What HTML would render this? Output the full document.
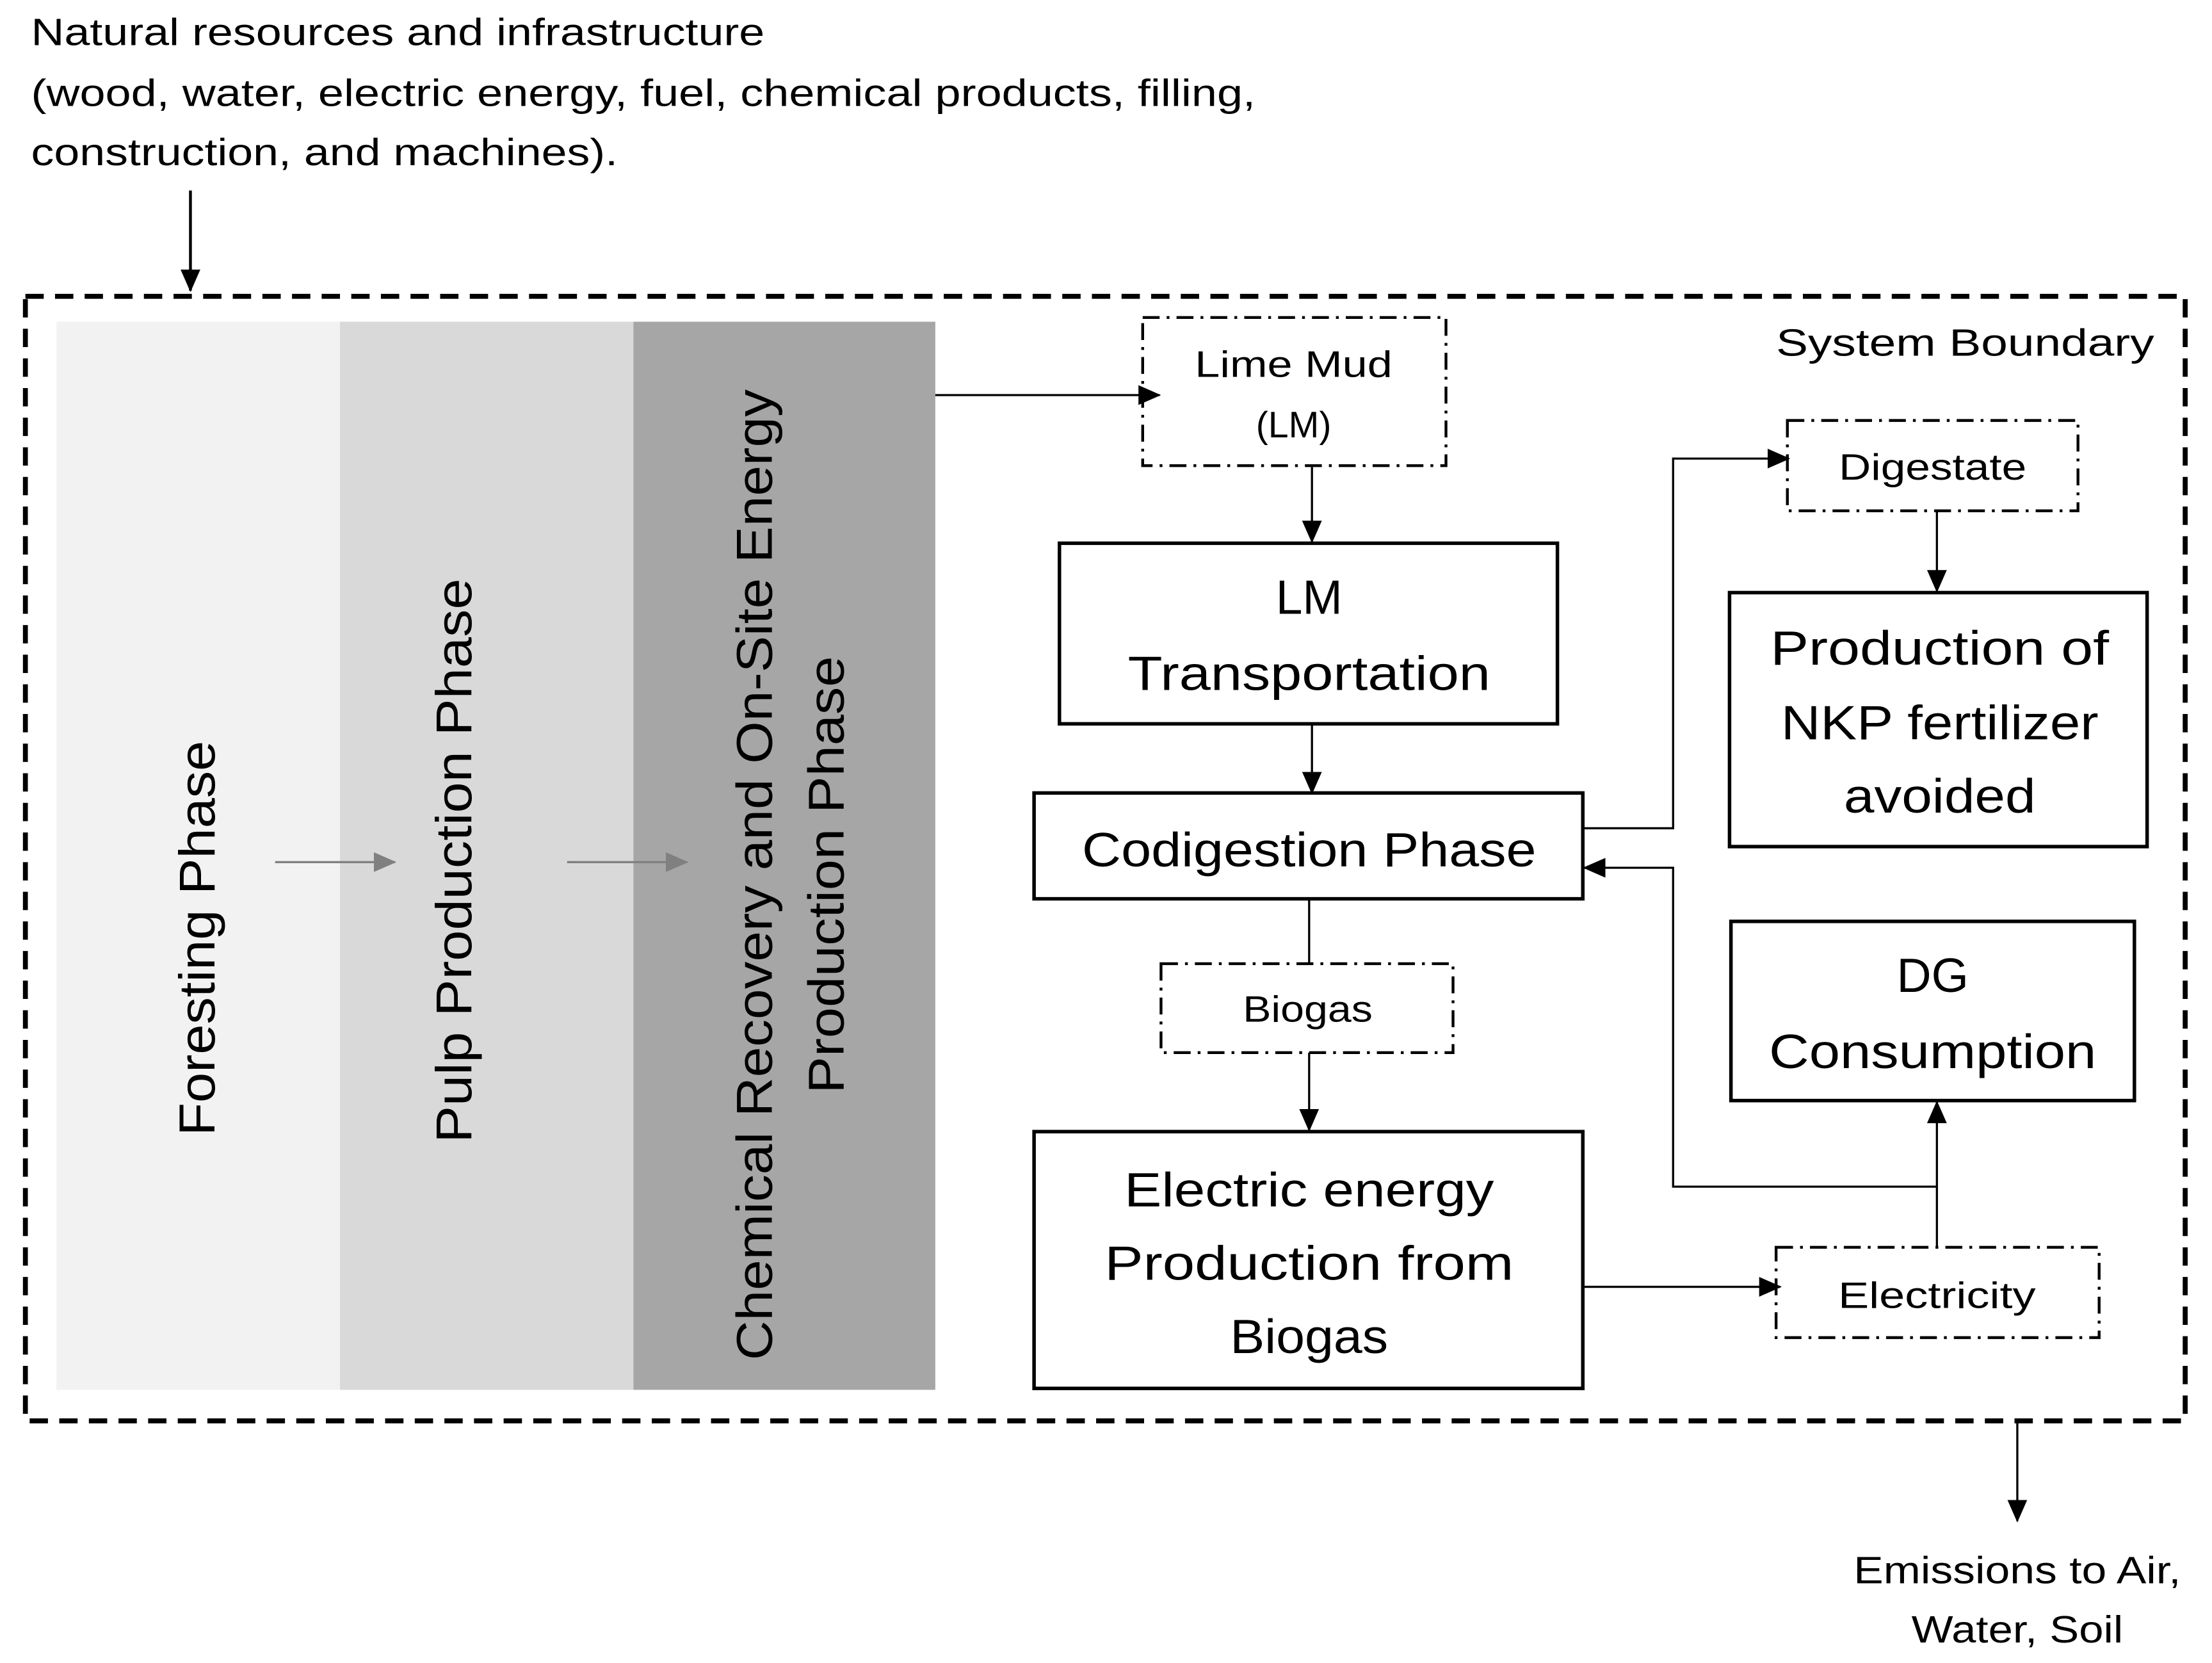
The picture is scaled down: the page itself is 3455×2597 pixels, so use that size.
<!DOCTYPE html>
<html><head><meta charset="utf-8"><style>html,body{margin:0;padding:0;background:#fff}svg{display:block}</style></head>
<body>
<svg width="3455" height="2597" viewBox="0 0 1568 1178.6" xmlns="http://www.w3.org/2000/svg" font-family="Liberation Sans, sans-serif" fill="#000">
<defs>
<marker id="a" markerWidth="10" markerHeight="10" refX="9" refY="5" orient="auto" markerUnits="userSpaceOnUse" viewBox="0 0 10 10"><path d="M0,0 L10,5 L0,10z" fill="#000"/></marker>
<marker id="ab" markerWidth="16" markerHeight="14" refX="15" refY="7" orient="auto" markerUnits="userSpaceOnUse" viewBox="0 0 16 14"><path d="M0,0 L16,7 L0,14z" fill="#000"/></marker>
<marker id="ag" markerWidth="16" markerHeight="14" refX="15" refY="7" orient="auto" markerUnits="userSpaceOnUse" viewBox="0 0 16 14"><path d="M0,0 L16,7 L0,14z" fill="#808080"/></marker>
</defs>
<rect width="1568" height="1179" fill="#fff"/>
<g font-size="27">
<text x="22" y="32" textLength="520" lengthAdjust="spacingAndGlyphs">Natural resources and infrastructure</text>
<text x="22" y="75" textLength="868" lengthAdjust="spacingAndGlyphs">(wood, water, electric energy, fuel, chemical products, filling,</text>
<text x="22" y="117" textLength="416" lengthAdjust="spacingAndGlyphs">construction, and machines).</text>
</g>
<line x1="135" y1="135" x2="135" y2="206" stroke="#000" stroke-width="2" marker-end="url(#ab)"/>
<rect x="40" y="228" width="201" height="757" fill="#f2f2f2"/>
<rect x="241" y="228" width="208" height="757" fill="#d9d9d9"/>
<rect x="449" y="228" width="214" height="757" fill="#a6a6a6"/>
<rect x="18" y="210" width="1531" height="797" fill="none" stroke="#000" stroke-width="3.5" stroke-dasharray="13,8"/>
<g font-size="36" text-anchor="middle">
<text transform="translate(152,665) rotate(-90)" textLength="280" lengthAdjust="spacingAndGlyphs">Foresting Phase</text>
<text transform="translate(334,610) rotate(-90)" textLength="400" lengthAdjust="spacingAndGlyphs">Pulp Production Phase</text>
<text transform="translate(547,620) rotate(-90)" textLength="688" lengthAdjust="spacingAndGlyphs">Chemical Recovery and On-Site Energy</text>
<text transform="translate(598,620) rotate(-90)" textLength="310" lengthAdjust="spacingAndGlyphs">Production Phase</text>
</g>
<line x1="195" y1="611" x2="280" y2="611" stroke="#808080" stroke-width="1.5" marker-end="url(#ag)"/>
<line x1="402" y1="611" x2="487" y2="611" stroke="#808080" stroke-width="1.5" marker-end="url(#ag)"/>
<g stroke="#000" stroke-width="1.5" fill="none">
<line x1="663" y1="280" x2="822" y2="280" marker-end="url(#ab)"/>
<line x1="930" y1="331" x2="930" y2="384" marker-end="url(#ab)"/>
<line x1="930" y1="513" x2="930" y2="562" marker-end="url(#ab)"/>
<polyline points="1122,587 1186,587 1186,325 1268,325" marker-end="url(#ab)"/>
<line x1="1373" y1="362" x2="1373" y2="419" marker-end="url(#ab)"/>
<line x1="928" y1="637" x2="928" y2="683"/>
<line x1="928" y1="746" x2="928" y2="801" marker-end="url(#ab)"/>
<line x1="1122" y1="912" x2="1262" y2="912" marker-end="url(#ab)"/>
<line x1="1373" y1="884" x2="1373" y2="781" marker-end="url(#ab)"/>
<polyline points="1373,841 1186,841 1186,615 1123,615" marker-end="url(#ab)"/>
<line x1="1430" y1="1008" x2="1430" y2="1078" marker-end="url(#ab)"/>
</g>
<g fill="none" stroke="#000" stroke-width="2" stroke-dasharray="12,5,2,5">
<rect x="810" y="225" width="215" height="105"/>
<rect x="1267" y="298" width="206" height="64"/>
<rect x="823" y="683" width="207" height="63"/>
<rect x="1259" y="884" width="229" height="64"/>
</g>
<g fill="#fff" stroke="#000" stroke-width="2.5">
<rect x="751" y="385" width="353" height="128"/>
<rect x="733" y="562" width="389" height="75"/>
<rect x="1226" y="420" width="296" height="180"/>
<rect x="1227" y="653" width="286" height="127"/>
<rect x="733" y="802" width="389" height="182"/>
</g>
<g font-size="26" text-anchor="middle">
<text x="917" y="267" textLength="140" lengthAdjust="spacingAndGlyphs">Lime Mud</text>
<text x="917" y="310">(LM)</text>
<text x="1370" y="340" textLength="133" lengthAdjust="spacingAndGlyphs">Digestate</text>
<text x="927" y="724" textLength="92" lengthAdjust="spacingAndGlyphs">Biogas</text>
<text x="1373" y="927" textLength="140" lengthAdjust="spacingAndGlyphs">Electricity</text>
</g>
<g font-size="34" text-anchor="middle">
<text x="928" y="435">LM</text>
<text x="928" y="489" textLength="257" lengthAdjust="spacingAndGlyphs">Transportation</text>
<text x="928" y="614" textLength="322" lengthAdjust="spacingAndGlyphs">Codigestion Phase</text>
<text x="1375" y="471" textLength="240" lengthAdjust="spacingAndGlyphs">Production of</text>
<text x="1375" y="524" textLength="225" lengthAdjust="spacingAndGlyphs">NKP fertilizer</text>
<text x="1375" y="576" textLength="136" lengthAdjust="spacingAndGlyphs">avoided</text>
<text x="1370" y="703">DG</text>
<text x="1370" y="757" textLength="232" lengthAdjust="spacingAndGlyphs">Consumption</text>
<text x="928" y="855" textLength="262" lengthAdjust="spacingAndGlyphs">Electric energy</text>
<text x="928" y="907" textLength="290" lengthAdjust="spacingAndGlyphs">Production from</text>
<text x="928" y="959" textLength="112" lengthAdjust="spacingAndGlyphs">Biogas</text>
</g>
<g font-size="27">
<text x="1527" y="252" text-anchor="end" textLength="268" lengthAdjust="spacingAndGlyphs">System Boundary</text>
<text x="1430" y="1122" text-anchor="middle" textLength="232" lengthAdjust="spacingAndGlyphs">Emissions to Air,</text>
<text x="1430" y="1164" text-anchor="middle" textLength="150" lengthAdjust="spacingAndGlyphs">Water, Soil</text>
</g>
</svg>
</body></html>
